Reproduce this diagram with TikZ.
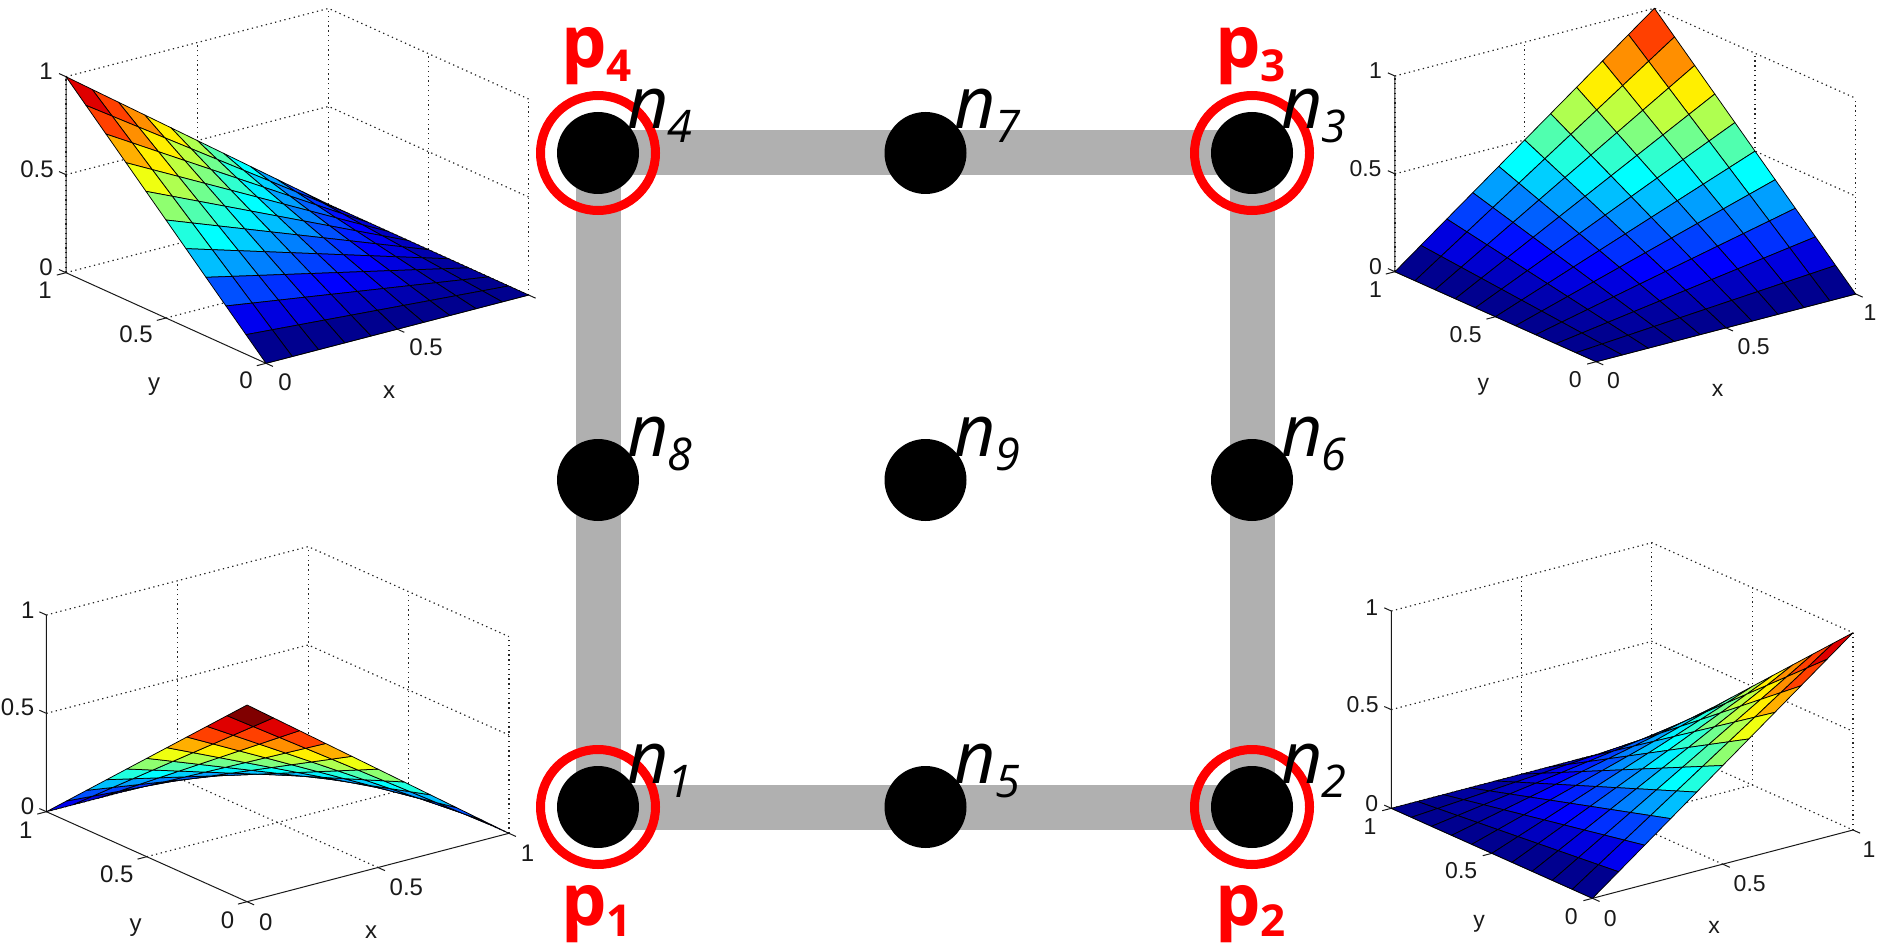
\documentclass[tikz,border=0pt]{standalone}
\usepackage{fontspec}
\setmainfont{Liberation Sans}
\newfontfamily\opensans{Open Sans}
\usetikzlibrary{backgrounds}
\tikzset{
  griddot/.style={line width=1.2pt,black!85,dash pattern=on 1.3pt off 3.5pt},
  axisline/.style={line width=1pt,black!90},
  cellstyle/.style={draw=black,line width=0.75pt,line join=round},
  ticklab/.style={inner sep=0pt,text=black!90},
  bar/.style={line width=45pt,color=barGray},
  dotnode/.style={circle,fill=black,minimum size=82pt,inner sep=0pt},
  ringnode/.style={circle,draw=red,line width=9pt,minimum size=115pt,inner sep=0pt},
  nlab/.style={anchor=base west,inner sep=0pt,font=\opensans\itshape\fontsize{72}{72}\selectfont},
  plab/.style={anchor=base west,inner sep=0pt,text=red,font=\opensans\bfseries\fontsize{72}{72}\selectfont}
}
\definecolor{barGray}{RGB}{176,176,176}
\newcommand\spt[2]{({px(#1,#2)},{py(#1,#2,fz(#1,#2))})}
\newcommand\fpt[3]{({px(#1,#2)},{py(#1,#2,#3)})}
% #1,#2 origin; #3,#4 x end; #5,#6 y end; #7 height; #8 surface
\newcommand\surfplot[8]{%
\begin{scope}[declare function={fz(\uu,\vv)=#8;
   px(\uu,\vv)=#1+\uu*(#3-#1)+\vv*(#5-#1);
   py(\uu,\vv,\ww)=#2+\uu*(#4-#2)+\vv*(#6-#2)-\ww*#7;}]
  \foreach \zz in {0,0.5,1}
    \draw[griddot] \fpt{0}{1}{\zz} -- \fpt{1}{1}{\zz} -- \fpt{1}{0}{\zz};
  \draw[griddot] \fpt{0}{1}{0} -- \fpt{0}{1}{1};
  \draw[griddot] \fpt{0.5}{1}{0} -- \fpt{0.5}{1}{1};
  \draw[griddot] \fpt{1}{1}{0} -- \fpt{1}{1}{1};
  \draw[griddot] \fpt{1}{0.5}{0} -- \fpt{1}{0.5}{1};
  \draw[griddot] \fpt{1}{0}{0} -- \fpt{1}{0}{1};
  \draw[griddot] \fpt{0.5}{0}{0} -- \fpt{0.5}{1}{0};
  \draw[griddot] \fpt{0}{0.5}{0} -- \fpt{1}{0.5}{0};
  \draw[axisline] \fpt{0}{1}{1} -- \fpt{0}{1}{0} -- \fpt{0}{0}{0} -- \fpt{1}{0}{0};
  \foreach \tt in {0,0.5,1}{
    \draw[axisline] \fpt{\tt}{0}{0} -- \fpt{\tt}{-0.035}{0};
    \draw[axisline] \fpt{0}{\tt}{0} -- \fpt{-0.035}{\tt}{0};
    \draw[axisline] \fpt{0}{1}{\tt} -- \fpt{0}{1.035}{\tt};
  }
  \foreach \ci in {9,...,0}{
    \foreach \cj in {9,...,0}{
      \pgfmathsetmacro\ua{\ci/10}\pgfmathsetmacro\ub{(\ci+1)/10}
      \pgfmathsetmacro\va{\cj/10}\pgfmathsetmacro\vb{(\cj+1)/10}
      \pgfmathsetmacro\idx{min(floor(fz(\ua,\va)*64+0.0001),63)}
      \pgfmathsetmacro\tp{(\idx+1)/64}
      \pgfmathsetmacro\colr{max(0,min(1,1.5-abs(4*\tp-3)))}
      \pgfmathsetmacro\colg{max(0,min(1,1.5-abs(4*\tp-2)))}
      \pgfmathsetmacro\colb{max(0,min(1,1.5-abs(4*\tp-1)))}
      \definecolor{cellc}{rgb}{\colr,\colg,\colb}
      \filldraw[cellstyle,fill=cellc] \spt{\ua}{\va} -- \spt{\ub}{\va} -- \spt{\ub}{\vb} -- \spt{\ua}{\vb} -- cycle;
    }
  }
\end{scope}}
\newcommand\tl[5]{\node[ticklab,font=\fontsize{#1}{#1}\selectfont] (#2) at (#3,#4) {#5};}
\begin{document}
\begin{tikzpicture}[x=1pt,y=-1pt]
\useasboundingbox (0,0) rectangle (1877,944);
% plots
\surfplot{266}{363.3}{528.6}{295}{66}{272.7}{196}{(1-\uu)*\vv}
\surfplot{1596.2}{361.7}{1855.7}{294}{1394.9}{271.7}{195.7}{\uu*\vv}
\surfplot{247.1}{901.7}{508.9}{833.3}{46.4}{811.7}{196.7}{(1-\uu)*(1-\vv)}
\surfplot{1592.5}{898.3}{1853}{830}{1391.3}{808.3}{197.3}{\uu*(1-\vv)}
% plot 1 labels
\tl{24}{az1}{46}{71}{1}\tl{24}{azh}{37}{169}{0.5}\tl{24}{az0}{46}{267}{0}
\tl{24}{ay1}{45}{290}{1}\tl{24}{ayh}{136}{334}{0.5}\tl{24}{ay0}{246}{380}{0}
\tl{24}{ax0}{285}{382}{0}\tl{24}{axh}{426}{347}{0.5}
\tl{24}{axl}{389}{392}{x}\tl{24}{ayl}{154}{387}{y}
% plot 2 labels
\tl{23}{bz1}{1375.4}{71}{1}\tl{23}{bzh}{1365.5}{169}{0.5}\tl{23}{bz0}{1375.4}{266.7}{0}
\tl{23}{by1}{1375.4}{289.3}{1}\tl{23}{byh}{1465.6}{334.3}{0.5}\tl{23}{by0}{1575.3}{379.3}{0}
\tl{23}{bx0}{1613.5}{381}{0}\tl{23}{bxh}{1753.7}{346.7}{0.5}\tl{23}{bx1}{1870}{313}{1}
\tl{23}{bxl}{1717.7}{390.7}{x}\tl{23}{byl}{1483.3}{386.7}{y}
% plot 3 labels
\tl{24}{cz1}{27.9}{610}{1}\tl{24}{czh}{17.5}{707.7}{0.5}\tl{24}{cz0}{27.5}{806}{0}
\tl{24}{cy1}{25.7}{830}{1}\tl{24}{cyh}{116.8}{874.3}{0.5}\tl{24}{cy0}{227.5}{920}{0}
\tl{24}{cx0}{265.7}{922}{0}\tl{24}{cxh}{406.4}{887.7}{0.5}\tl{24}{cx1}{527.5}{853}{1}
\tl{24}{cxl}{371}{932}{x}\tl{24}{cyl}{135.7}{927.7}{y}
% plot 4 labels
\tl{23}{dz1}{1371.8}{607.3}{1}\tl{23}{dzh}{1362.6}{704.3}{0.5}\tl{23}{dz0}{1371.8}{803.3}{0}
\tl{23}{dy1}{1370}{826.7}{1}\tl{23}{dyh}{1461.2}{871}{0.5}\tl{23}{dy0}{1571.2}{916.7}{0}
\tl{23}{dx0}{1610.2}{918.3}{0}\tl{23}{dxh}{1749.7}{883.3}{0.5}\tl{23}{dx1}{1869}{850}{1}
\tl{23}{dxl}{1714}{927.3}{x}\tl{23}{dyl}{1479.2}{924}{y}
% element nodes
\foreach \nm/\xx/\yy in {1/598/807,2/1252/807,3/1252/153,4/598/153,5/925.5/807,6/1252/480,7/925.5/153,8/598/480,9/925.5/480}
  \node[dotnode] (d\nm) at (\xx,\yy) {};
\begin{pgfonlayer}{background}
\foreach \a/\b in {d1/d5,d5/d2,d2/d6,d6/d3,d3/d7,d7/d4,d4/d8,d8/d1}
  \draw[bar] (\a.center) -- (\b.center);
\end{pgfonlayer}
\foreach \nm in {1,2,3,4}
  \node[ringnode] (r\nm) at (d\nm.center) {};
\foreach \nm/\xx/\yy in {1/598/807,2/1252/807,3/1252/153,4/598/153,5/925.5/807,6/1252/480,7/925.5/153,8/598/480,9/925.5/480}
  \node[nlab] (n\nm) at ({\xx+29},{\yy-24}) {n\kern-1pt\raisebox{-14pt}{\fontsize{45}{45}\selectfont\nm}};
\node[plab] (p4) at (561,68) {p\raisebox{-14pt}{\fontsize{44}{44}\selectfont 4}};
\node[plab] (p3) at (1215,68) {p\raisebox{-14pt}{\fontsize{44}{44}\selectfont 3}};
\node[plab] (p1) at (561,925) {p\raisebox{-11pt}{\fontsize{44}{44}\selectfont 1}};
\node[plab] (p2) at (1215,925) {p\raisebox{-11pt}{\fontsize{44}{44}\selectfont 2}};
\end{tikzpicture}
\end{document}
